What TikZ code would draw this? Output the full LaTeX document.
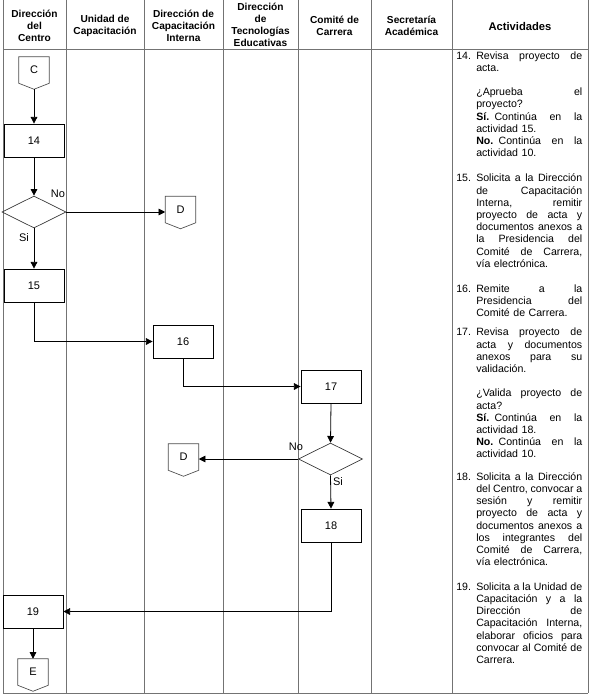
\documentclass[tikz,border=0pt]{standalone}
\usepackage{fontspec}
\setmainfont{Liberation Sans}
\usetikzlibrary{shapes.geometric,arrows.meta,calc}
\newlength\actw
\setlength\actw{79.5pt}
\newcommand\jline[1]{\makebox[\actw][s]{\spaceskip=0.25em plus 1fil minus 0.1em\relax #1}}
\newcommand\lline[1]{\makebox[\actw][l]{#1}}
\begin{document}
\begin{tikzpicture}[x=0.75pt,y=-0.75pt,
  grid/.style={black!55, line width=0.75pt},
  box/.style={draw, rectangle, minimum width=45pt, minimum height=24.75pt, inner sep=0pt, line width=0.6pt, font=\fontsize{8.25}{9.9}\selectfont},
  dec/.style={draw, diamond, minimum width=48pt, minimum height=24pt, inner sep=0pt, aspect=2, line width=0.5pt, black!80},
  offp/.style={minimum width=22.5pt, minimum height=19.5pt, inner sep=0pt, font=\fontsize{8.25}{9.9}\selectfont},
  offline/.style={draw=black!70, line width=0.5pt},
  flow/.style={-{Triangle[length=5pt,width=5pt]}, line width=0.6pt},
  lbl/.style={inner sep=0pt, font=\fontsize{8.25}{9.9}\selectfont},
  hdr/.style={align=center, inner sep=0pt, font=\bfseries\fontsize{7.6}{9.15}\selectfont},
  act/.style={anchor=base west, text width=\actw, inner sep=0pt, font=\fontsize{7.95}{9.15}\selectfont},
  num/.style={anchor=base west, inner sep=0pt, font=\fontsize{7.95}{9.15}\selectfont}]
\useasboundingbox (0,0) rectangle (590,699);
% table
\foreach \x in {3,66,144,223,298,371,452,588} \draw[grid] (\x,0) -- (\x,693);
\draw[grid] (3,49.5) -- (588,49.5);
\draw[grid] (3,693) -- (588,693);
% headers
\node[hdr] (h1) at (34.5,26) {Dirección\\del\\Centro};
\node[hdr] (h2) at (105,26) {Unidad de\\Capacitación};
\node[hdr] (h3) at (183.5,26) {Dirección de\\Capacitación\\Interna};
\node[hdr] (h4) at (260.5,25) {Dirección\\de\\Tecnologías\\Educativas};
\node[hdr] (h5) at (334.5,26) {Comité de\\Carrera};
\node[hdr] (h6) at (411.5,26) {Secretaría\\Académica};
\node[hdr, font=\bfseries\fontsize{8.4}{10}\selectfont] (h7) at (520,26) {Actividades};
% flow nodes
\node[offp] (c) at (34,70) {C};
\draw[offline] (c.north west) -- (c.north east) -- (c.south east) -- ($(c.south)+(0,6)$) -- (c.south west) -- cycle;
\node[box] (b14) at (34,140.5) {14};
\node[dec] (dia1) at (34,212) {};
\node[offp] (d1) at (180.5,209.5) {D};
\draw[offline] (d1.north west) -- (d1.north east) -- (d1.south east) -- ($(d1.south)+(0,6)$) -- (d1.south west) -- cycle;
\node[box] (b15) at (34,285.5) {15};
\node[box] (b16) at (183,341.5) {16};
\node[box] (b17) at (331,386.5) {17};
\node[dec] (dia2) at (330.5,459) {};
\node[offp] (d2) at (183.5,457) {D};
\draw[offline] (d2.north west) -- (d2.north east) -- (d2.south east) -- ($(d2.south)+(0,6)$) -- (d2.south west) -- cycle;
\node[box] (b18) at (331,525.5) {18};
\node[box] (b19) at (33,611.5) {19};
\node[offp] (e) at (33,672) {E};
\draw[offline] (e.north west) -- (e.north east) -- (e.south east) -- ($(e.south)+(0,6)$) -- (e.south west) -- cycle;
% connectors
\draw[flow] ($(c.south)+(0,6)$) -- (b14.north);
\draw[flow] (b14.south) -- (dia1.north);
\draw[flow] (dia1.east) -- (dia1.east -| d1.west);
\draw[flow] (dia1.south) -- (b15.north);
\draw[flow] (b15.south) |- (b16.west);
\draw[flow] (b16.south) |- (b17.west);
\draw[flow] (b17.south) -- (dia2.north);
\draw[flow] (dia2.west) -- (dia2.west -| d2.east);
\draw[flow] (dia2.south) -- (b18.north);
\draw[flow] (b18.south) |- (b19.east);
\draw[flow] (b19.south) -- (e.north);
% labels
\node[lbl] (no1) at (58,194) {No};
\node[lbl] (si1) at (24,238) {Si};
\node[lbl] (no2) at (296,447) {No};
\node[lbl] (si2) at (338,482) {Si};
% activities
\node[num] (n14) at (456,59.2) {14.};
\node[act] (a14) at (476,59.2) {\jline{Revisa proyecto de}\\\lline{acta.}\\[9.15pt]\jline{¿Aprueba el}\\\lline{proyecto?}\\\jline{\textbf{Sí.} Continúa en la}\\\lline{actividad 15.}\\\jline{\textbf{No.} Continúa en la}\\\lline{actividad 10.}};
\node[num] (n15) at (456,181.8) {15.};
\node[act] (a15) at (476,181.8) {\jline{Solicita a la Dirección}\\\jline{de Capacitación}\\\jline{Interna, remitir}\\\jline{proyecto de acta y}\\\jline{documentos anexos a}\\\jline{la Presidencia del}\\\jline{Comité de Carrera,}\\\lline{vía electrónica.}};
\node[num] (n16) at (456,292.5) {16.};
\node[act] (a16) at (476,292.5) {\jline{Remite a la}\\\jline{Presidencia del}\\\lline{Comité de Carrera.}};
\node[num] (n17) at (456,335.8) {17.};
\node[act] (a17) at (476,335.8) {\jline{Revisa proyecto de}\\\jline{acta y documentos}\\\jline{anexos para su}\\\lline{validación.}\\[9.15pt]\jline{¿Valida proyecto de}\\\lline{acta?}\\\jline{\textbf{Sí.} Continúa en la}\\\lline{actividad 18.}\\\jline{\textbf{No.} Continúa en la}\\\lline{actividad 10.}};
\node[num] (n18) at (456,480.2) {18.};
\node[act] (a18) at (476,480.2) {\jline{Solicita a la Dirección}\\\jline{del Centro, convocar a}\\\jline{sesión y remitir}\\\jline{proyecto de acta y}\\\jline{documentos anexos a}\\\jline{los integrantes del}\\\jline{Comité de Carrera,}\\\lline{vía electrónica.}};
\node[num] (n19) at (456,590.2) {19.};
\node[act] (a19) at (476,590.2) {\jline{Solicita a la Unidad de}\\\jline{Capacitación y a la}\\\jline{Dirección de}\\\jline{Capacitación Interna,}\\\jline{elaborar oficios para}\\\jline{convocar al Comité de}\\\lline{Carrera.}};
\end{tikzpicture}
\end{document}
